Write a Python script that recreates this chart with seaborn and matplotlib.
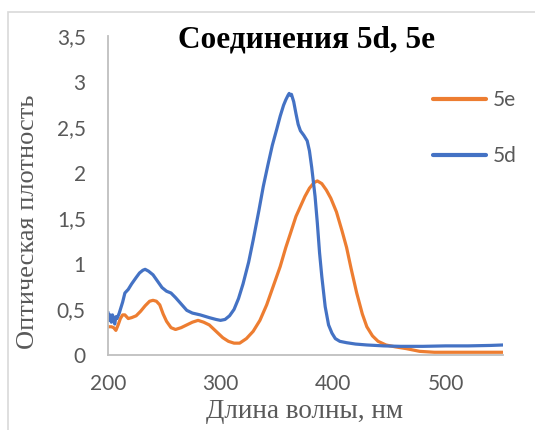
import numpy as np
import pandas as pd
import matplotlib
matplotlib.use("Agg")
import matplotlib.pyplot as plt
import seaborn as sns
from matplotlib.patches import Rectangle
from matplotlib import font_manager

# spectra
wl_5d = [200, 201, 202, 203, 204, 205, 206, 207, 208, 210, 213, 215, 218, 221, 225, 228, 231, 233, 236,
         240, 244, 248, 252, 256, 260, 265, 270, 275, 282, 290, 296, 300, 304, 308, 312, 316, 320, 325, 329,
         334, 338, 342, 346, 350, 353, 356, 358, 360, 361, 362, 363, 365, 367, 369, 371, 374, 377, 379, 381,
         384, 386, 388, 390, 393, 396, 399, 402, 406, 412, 420, 430, 445, 460, 480, 500, 520, 540, 551]
od_5d = [0.47, 0.38, 0.44, 0.36, 0.44, 0.38, 0.34, 0.42, 0.40, 0.46, 0.58, 0.68, 0.72, 0.78, 0.85, 0.90, 0.93, 0.94, 0.92,
         0.88, 0.81, 0.74, 0.70, 0.68, 0.63, 0.56, 0.49, 0.46, 0.44, 0.41, 0.39, 0.38, 0.39, 0.43, 0.50, 0.62, 0.78, 1.02, 1.26,
         1.58, 1.85, 2.08, 2.30, 2.48, 2.62, 2.74, 2.80, 2.85, 2.87, 2.85, 2.86, 2.78, 2.65, 2.53, 2.46, 2.41, 2.35, 2.24, 2.06,
         1.74, 1.45, 1.12, 0.86, 0.53, 0.33, 0.24, 0.18, 0.15, 0.135, 0.12, 0.11, 0.10, 0.095, 0.095, 0.10, 0.10, 0.105, 0.11]

wl_5e = [200, 203, 205, 207, 209, 211, 213, 215, 218, 221, 225, 229, 233, 237, 240, 243, 246, 249, 252, 256,
         260, 265, 270, 275, 280, 285, 290, 296, 302, 307, 312, 317, 323, 329, 335, 341, 347, 353, 358, 362,
         367, 371, 375, 379, 383, 386, 390, 394, 398, 403, 408, 412, 416, 421, 426, 430, 435, 440, 447, 455,
         465, 477, 490, 510, 530, 551]
od_5e = [0.31, 0.31, 0.30, 0.27, 0.33, 0.40, 0.44, 0.44, 0.40, 0.41, 0.43, 0.48, 0.54, 0.59, 0.60, 0.59, 0.55, 0.45, 0.37, 0.30,
         0.28, 0.30, 0.33, 0.36, 0.38, 0.36, 0.33, 0.26, 0.19, 0.15, 0.13, 0.13, 0.18, 0.26, 0.38, 0.55, 0.76, 0.97, 1.18, 1.33,
         1.52, 1.63, 1.74, 1.83, 1.89, 1.91, 1.88, 1.81, 1.72, 1.57, 1.36, 1.18, 0.95, 0.68, 0.45, 0.31, 0.21, 0.15, 0.11, 0.09,
         0.07, 0.04, 0.03, 0.03, 0.03, 0.03]

series = ["5e", "5d"]
colors = {"5e": "#ED7D31", "5d": "#4472C4"}
x_ticks = [200, 300, 400, 500]
y_ticks = [0, 0.5, 1, 1.5, 2, 2.5, 3, 3.5]
y_labels = ["0", "0,5", "1", "1,5", "2", "2,5", "3", "3,5"]

title = "Соединения 5d, 5e"
xlabel = "Длина волны, нм"
ylabel = "Оптическая плотность"

df = pd.concat([
    pd.DataFrame({"wl": wl_5e, "od": od_5e, "s": "5e"}),
    pd.DataFrame({"wl": wl_5d, "od": od_5d, "s": "5d"}),
])

sns.set_style("white")
plt.rcParams["font.family"] = ["Lato", "DejaVu Sans"]

# bold serif file for the title (Times-like)
bold_serif = None
for f in font_manager.fontManager.ttflist:
    if f.name == "Liberation Serif" and f.weight in (700, "bold") and f.style == "normal":
        bold_serif = f.fname
        break
if bold_serif:
    title_font = font_manager.FontProperties(fname=bold_serif, size=22.5)
else:
    title_font = font_manager.FontProperties(family="DejaVu Serif", weight="bold", size=20)

fig = plt.figure(figsize=(5.35, 4.3), dpi=100)
ax = fig.add_axes([108 / 535, 75 / 430, 395 / 535, 319 / 430])

sns.lineplot(data=df, x="wl", y="od", hue="s", hue_order=series, palette=colors,
             estimator=None, sort=False, linewidth=2.3, ax=ax)

ax.set_xlim(200, 551)
ax.set_ylim(0, 3.5)
ax.set_xticks(x_ticks)
ax.set_yticks(y_ticks)
ax.set_yticklabels(y_labels)
ax.tick_params(length=0, labelsize=15, labelcolor="#595959")
ax.tick_params(axis="y", pad=16)
ax.tick_params(axis="x", pad=14)
for side in ["top", "right"]:
    ax.spines[side].set_visible(False)
for side in ["left", "bottom"]:
    ax.spines[side].set_color("#BFBFBF")
    ax.spines[side].set_linewidth(1.3)

ax.set_xlabel("")
ax.set_ylabel("")
fig.text(305 / 535, 1 - 412 / 430, xlabel, family="Liberation Serif", fontsize=19.5, color="#595959",
         ha="center", va="center")
fig.text(28 / 535, 1 - 222 / 430, ylabel, family="Liberation Serif", fontsize=19, color="#595959",
         ha="center", va="center", rotation=90)
fig.text(306 / 535, 1 - 40 / 430, title, fontproperties=title_font,
         color="black", ha="center", va="center")

leg = ax.legend(loc="upper left", bbox_to_anchor=(433 / 535, 1 - 90 / 430),
                bbox_transform=fig.transFigure, frameon=False, fontsize=15,
                handlelength=2.55, handletextpad=0.3, labelspacing=1.75,
                borderpad=0, borderaxespad=0)
for t in leg.get_texts():
    t.set_color("#595959")
for h in leg.get_lines():
    h.set_linewidth(3)

# chart area border
fig.patches.append(Rectangle((8 / 535, -0.1), 1.2, 1 - 12 / 430 + 0.1, transform=fig.transFigure,
                             fill=False, edgecolor="#D9D9D9", linewidth=1.2))

fig.savefig("out.png", dpi=100)
